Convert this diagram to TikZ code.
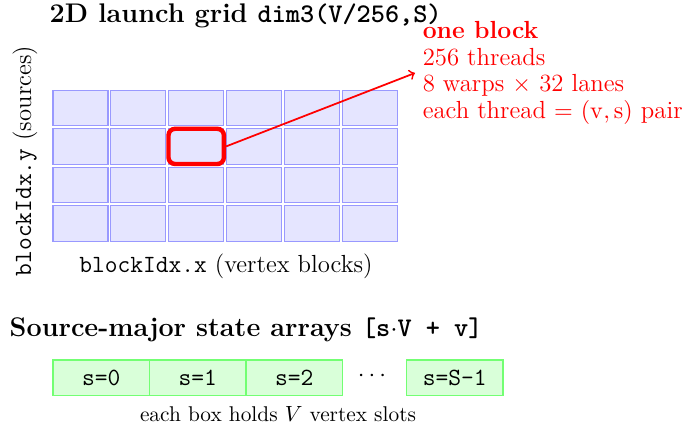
\documentclass[tikz,border=0pt]{standalone}
\begin{document}
\begin{tikzpicture}[x=0.4545pt,y=-0.4545pt,
  body/.style={font=\fontsize{11.25}{12}\selectfont},
  ttl/.style={anchor=base west, inner sep=0pt, font=\fontsize{12.25}{14}\selectfont\bfseries},
  cell/.style={draw=blue!40, fill=blue!10, line width=0.5pt, minimum width=25pt, minimum height=16.1pt, inner sep=0pt},
  selbox/.style={draw=red, line width=2pt, rounded corners=3pt, minimum width=25.2pt, minimum height=16pt, inner sep=0pt},
  slot/.style={draw=green!55, fill=green!15, line width=0.5pt, minimum width=43.9pt, minimum height=16.2pt, inner sep=0pt, font=\fontsize{11.25}{12}\selectfont\ttfamily},
  pointer/.style={draw=red, line width=0.8pt, ->}
]
\useasboundingbox (0,0) rectangle (688,429);

% title
\node[ttl] (t1) at (49.3,22.7) {2D launch grid \texttt{dim3(V/256,S)}};

% grid of blocks
\foreach \i in {0,...,5}{
  \foreach \j in {0,...,3}{
    \node[cell] (c-\i-\j) at ({80.5+57.85*\i},{107.8+38.6*\j}) {};
  }
}
\node[selbox] (sel) at (c-2-1.center) {};

% axis labels
\node[body, rotate=90] (ylab) at (25,161) {\texttt{blockIdx.y} (sources)};
\node[body] (xlab) at (226,266) {\texttt{blockIdx.x} (vertex blocks)};

% block info
\node[body, anchor=west, text=red, align=left] (info) at (415,73)
  {\textbf{one block}\\256 threads\\8 warps $\times$ 32 lanes\\each thread $=$ $(\mathrm{v},\mathrm{s})$ pair};
\draw[pointer] (sel.east) -- (info.west);

% second section
\node[ttl] (t2) at (9.3,336.7) {Source-major state arrays \texttt{[s$\cdot$V + v]}};

\node[slot] (s0) at (101.3,377.8) {s=0};
\node[slot] (s1) at (197.8,377.8) {s=1};
\node[slot] (s2) at (294.3,377.8) {s=2};
\node[body] (dots) at (372,376) {$\cdots$};
\node[slot] (sN) at (454.7,377.8) {s=S-1};

\node[font=\fontsize{9.7}{12}\selectfont] (cap) at (278,414.4) {each box holds $V$ vertex slots};
\end{tikzpicture}
\end{document}
